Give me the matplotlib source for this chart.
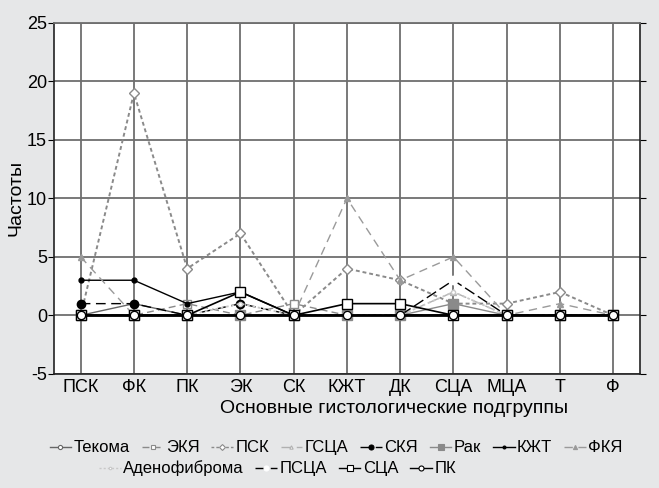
import matplotlib
matplotlib.use('Agg')
import matplotlib.pyplot as plt
from matplotlib.lines import Line2D

plt.rcParams['font.family'] = ['Liberation Sans', 'DejaVu Sans']
plt.rcParams['axes.unicode_minus'] = False

categories = ['ПСК', 'ФК', 'ПК', 'ЭК', 'СК', 'КЖТ', 'ДК', 'СЦА', 'МЦА', 'Т', 'Ф']

tekoma = [0, 1, 0, 0, 0, 0, 0, 0, 0, 0, 0]
eky = [0, 0, 1, 0, 1, 0, 0, 0, 0, 0, 0]
psk = [0, 19, 4, 7, 0, 4, 3, 1, 1, 2, 0]
gsca = [0, 0, 0, 0, 0, 0, 0, 2, 0, 0, 0]
sky = [1, 1, 0, 1, 0, 0, 0, 0, 0, 0, 0]
rak = [0, 0, 0, 0, 0, 0, 0, 1, 0, 0, 0]
kzht = [3, 3, 1, 2, 0, 0, 0, 0, 0, 0, 0]
fky = [5, 0, 0, 0, 0, 10, 3, 5, 0, 1, 0]
adeno = [0, 0, 0, 1, 0, 0, 0, 2, 0, 0, 0]
psca = [0, 0, 0, 0, 0, 0, 0, 3, 0, 0, 0]
sca = [0, 0, 0, 2, 0, 1, 1, 0, 0, 0, 0]
pk = [0, 0, 0, 0, 0, 0, 0, 0, 0, 0, 0]

# name, values, line colour, linestyle, width, marker, face, edge, size
series = [
    ('Текома', tekoma, '#666666', '-', 1.0, 'o', 'white', '#666666', 5),
    ('ЭКЯ', eky, '#8a8a8a', (0, (5, 3)), 1.0, 's', 'white', '#8a8a8a', 6),
    ('ПСК', psk, '#8a8a8a', (0, (2, 1.5)), 1.4, 'D', 'white', '#8a8a8a', 5),
    ('ГСЦА', gsca, '#b0b0b0', (0, (7, 4)), 1.0, '^', 'white', '#b0b0b0', 4),
    ('СКЯ', sky, 'black', (0, (7, 4)), 1.0, 'o', 'black', 'black', 6),
    ('Рак', rak, '#8a8a8a', '-', 1.0, 's', '#8a8a8a', '#8a8a8a', 7),
    ('КЖТ', kzht, 'black', '-', 1.0, 'o', 'black', 'black', 3.5),
    ('ФКЯ', fky, '#9a9a9a', (0, (6, 4)), 1.0, '^', '#9a9a9a', '#9a9a9a', 5),
    ('Аденофиброма', adeno, '#c8c8c8', (0, (1.5, 1.5)), 1.3, 'o', 'white', '#c8c8c8', 3),
    ('ПСЦА', psca, 'black', (0, (8, 3)), 1.0, 'o', 'white', 'white', 6),
    ('СЦА', sca, 'black', '-', 1.2, 's', 'white', 'black', 7),
    ('ПК', pk, 'black', '-', 2.0, 'o', 'white', 'black', 6),
]

fig = plt.figure(figsize=(6.59, 4.88), dpi=100, facecolor='#e6e7e8')
ax = fig.add_axes([0.082, 0.234, 0.889, 0.719])
ax.set_facecolor('white')

x = list(range(len(categories)))
handles = []
for i, (name, vals, col, ls, lw, mk, fc, ec, ms) in enumerate(series):
    ax.plot(x, vals, color=col, linestyle=ls, linewidth=lw, marker=mk,
            markerfacecolor=fc, markeredgecolor=ec, markersize=ms,
            markeredgewidth=1.0, zorder=3 + i * 0.1, clip_on=False)
    handles.append(Line2D([], [], color=col, linestyle=ls, linewidth=1.0,
                          marker=mk, markerfacecolor=fc, markeredgecolor=ec,
                          markersize=ms * 0.6, markeredgewidth=0.8, label=name))

ax.set_xlim(-0.5, 10.5)
ax.set_ylim(-5, 25)
ax.set_yticks([-5, 0, 5, 10, 15, 20, 25])
ax.set_xticks(x)
ax.set_xticklabels(categories)
ax.tick_params(axis='x', length=0, labelsize=13, pad=4)
ax.tick_params(axis='y', length=4, labelsize=13, pad=1, direction='out', right=True)

ax.grid(True, color='#6e6e6e', linewidth=1.3, zorder=1)
ax.set_axisbelow(True)
for side in ['left', 'bottom', 'right']:
    ax.spines[side].set_color('#222222')
    ax.spines[side].set_linewidth(1.2)
ax.spines['top'].set_color('#6e6e6e')
ax.spines['top'].set_linewidth(1.3)

ax.set_xlabel('Основные гистологические подгруппы', fontsize=14)
ax.xaxis.set_label_coords(0.58, -0.075)
ax.set_ylabel('Частоты', fontsize=14)
ax.yaxis.set_label_coords(-0.05, 0.5)

leg_kw = dict(frameon=False, fontsize=12, handlelength=1.3, handletextpad=0.15,
              columnspacing=0.7, borderaxespad=0)
leg1 = fig.legend(handles=handles[:8], ncol=8, loc='center',
                  bbox_to_anchor=(0.51, 0.082), **leg_kw)
leg2 = fig.legend(handles=handles[8:], ncol=4, loc='center left',
                  bbox_to_anchor=(0.14, 0.04), **leg_kw)

fig.savefig('out.png', dpi=100, facecolor=fig.get_facecolor())
